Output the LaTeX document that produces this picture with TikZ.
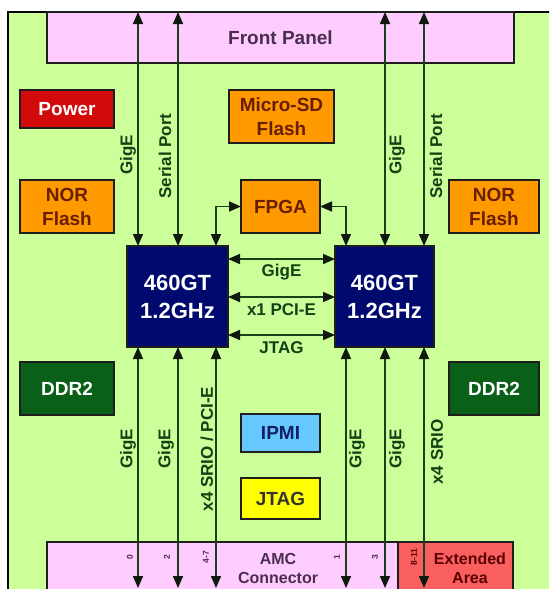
\documentclass[tikz,border=0pt]{standalone}
\usepackage{fontspec}
\setmainfont{Liberation Sans}
\usetikzlibrary{arrows.meta}
\definecolor{bggreen}{RGB}{204,255,153}
\definecolor{pinkc}{RGB}{255,204,255}
\definecolor{powerc}{RGB}{210,10,10}
\definecolor{orangec}{RGB}{255,153,0}
\definecolor{navyc}{RGB}{0,10,110}
\definecolor{ddrc}{RGB}{10,95,25}
\definecolor{ipmic}{RGB}{102,200,255}
\definecolor{yellowc}{RGB}{255,255,0}
\definecolor{extc}{RGB}{250,95,95}
\definecolor{linec}{RGB}{25,65,25}
\definecolor{arrowc}{RGB}{15,25,15}
\definecolor{labc}{RGB}{20,65,20}
\definecolor{fptext}{RGB}{75,45,80}
\definecolor{ortext}{RGB}{105,30,0}
\definecolor{exttext}{RGB}{90,0,0}
\definecolor{ipmitext}{RGB}{20,30,100}
\definecolor{boxline}{RGB}{30,30,30}
\begin{document}
\begin{tikzpicture}[x=1pt,y=-1pt,
  box/.style={draw=boxline, line width=1.3pt, inner sep=0pt, outer sep=0pt, align=center,
    font=\bfseries\fontsize{19}{24}\selectfont},
  cpu/.style={box, fill=navyc, text=white, minimum width=101pt, minimum height=101pt,
    font=\bfseries\fontsize{22}{28}\selectfont},
  orbox/.style={box, fill=orangec, text=ortext},
  ddr/.style={box, fill=ddrc, text=white, minimum width=94pt, minimum height=53pt},
  link/.style={draw=linec, line width=1.6pt,
    arrows={Triangle[length=12pt,width=10pt,color=arrowc]-Triangle[length=12pt,width=10pt,color=arrowc]}},
  lab/.style={text=labc, inner sep=0pt, font=\bfseries\fontsize{17}{20}\selectfont},
  vlab/.style={lab, rotate=90},
  num/.style={rotate=90, inner sep=0pt, text=fptext, font=\bfseries\fontsize{8.5}{9}\selectfont},
  bottomtext/.style={align=center, inner sep=0pt, font=\bfseries\fontsize{16}{19}\selectfont}]
\useasboundingbox (0,0) rectangle (549,589);
\clip (0,0) rectangle (549,589);
\fill[white] (0,0) rectangle (549,589);
\filldraw[fill=bggreen, draw=black, line width=1.3pt] (8,12) rectangle (580,620);

% boxes
\node[box, fill=pinkc, text=fptext, minimum width=467pt, minimum height=51pt] (fp) at (280.5,37.5) {Front Panel};
\node[box, fill=powerc, text=white, minimum width=94pt, minimum height=38pt] (power) at (67,109) {Power};
\node[orbox, minimum width=105pt, minimum height=53pt] (sd) at (281.5,116.5) {Micro-SD\\Flash};
\node[orbox, minimum width=94pt, minimum height=53pt] (norL) at (67,206.5) {NOR\\Flash};
\node[orbox, minimum width=79pt, minimum height=53pt] (fpga) at (280.5,206.5) {FPGA};
\node[orbox, minimum width=90pt, minimum height=53pt] (norR) at (494,206.5) {NOR\\Flash};
\node[cpu] (cpuL) at (177.5,296.5) {460GT\\1.2GHz};
\node[cpu, minimum width=99pt] (cpuR) at (384.5,296.5) {460GT\\1.2GHz};
\node[ddr] (ddrL) at (67,388.5) {DDR2};
\node[ddr, minimum width=90pt] (ddrR) at (494,388.5) {DDR2};
\node[box, fill=ipmic, text=ipmitext, minimum width=79pt, minimum height=38pt] (ipmi) at (280.5,433) {IPMI};
\node[box, fill=yellowc, text=black!80, minimum width=79pt, minimum height=41pt] (jtag) at (280.5,498.5) {JTAG};
\node[box, fill=pinkc, minimum width=351pt, minimum height=60pt] (amc) at (222.5,572) {};
\node[box, fill=extc, minimum width=115pt, minimum height=60pt] (ext) at (455.5,572) {};
\node[bottomtext, text=fptext] (amctext) at (278,568) {AMC\\Connector};
\node[bottomtext, text=exttext] (exttext) at (470,568) {Extended\\Area};

% x positions of vertical links
\coordinate (xa) at (138,0);
\coordinate (xb) at (178,0);
\coordinate (xc) at (216,0);
\coordinate (xd) at (346,0);
\coordinate (xe) at (385,0);
\coordinate (xf) at (424,0);
% free bottom ends
\coordinate (ba) at (138,588);
\coordinate (bb) at (178,588);
\coordinate (bc) at (216,588);
\coordinate (bd) at (346,588);
\coordinate (be) at (385,588);
\coordinate (bf) at (424,588);
% y of horizontal links
\coordinate (ya) at (0,259);
\coordinate (yb) at (0,297);
\coordinate (yc) at (0,335);

% front panel links
\draw[link] (fp.north -| xa) -- (cpuL.north -| xa);
\draw[link] (fp.north -| xb) -- (cpuL.north -| xb);
\draw[link] (fp.north -| xe) -- (cpuR.north -| xe);
\draw[link] (fp.north -| xf) -- (cpuR.north -| xf);
% fpga links
\draw[link] (fpga.west) -| (cpuL.north -| xc);
\draw[link] (fpga.east) -| (cpuR.north -| xd);
% cpu to cpu
\draw[link] (cpuL.east |- ya) -- (cpuR.west |- ya);
\draw[link] (cpuL.east |- yb) -- (cpuR.west |- yb);
\draw[link] (cpuL.east |- yc) -- (cpuR.west |- yc);
% AMC links
\draw[link] (cpuL.south -| xa) -- (ba);
\draw[link] (cpuL.south -| xb) -- (bb);
\draw[link] (cpuL.south -| xc) -- (bc);
\draw[link] (cpuR.south -| xd) -- (bd);
\draw[link] (cpuR.south -| xe) -- (be);
\draw[link] (cpuR.south -| xf) -- (bf);

% labels
\node[vlab] (l1) at (128,155) {GigE};
\node[vlab] (l2) at (165,156) {Serial Port};
\node[vlab] (l3) at (397,155) {GigE};
\node[vlab] (l4) at (436,156) {Serial Port};
\node[lab] (h1) at (281.5,272) {GigE};
\node[lab] (h2) at (281.5,310) {x1 PCI-E};
\node[lab] (h3) at (281.5,348) {JTAG};
\node[vlab] (b1) at (128,449) {GigE};
\node[vlab] (b2) at (166,449) {GigE};
\node[vlab] (b3) at (207,449) {x4 SRIO / PCI-E};
\node[vlab] (b4) at (357,449) {GigE};
\node[vlab] (b5) at (397,449) {GigE};
\node[vlab] (b6) at (437,452) {x4 SRIO};
% connector lane numbers
\node[num] (n0) at (130,557) {0};
\node[num] (n2) at (167,557) {2};
\node[num] (n47) at (206,557) {4-7};
\node[num] (n1) at (337,557) {1};
\node[num] (n3) at (375,557) {3};
\node[num, text=exttext] (n811) at (414,557) {8-11};
\end{tikzpicture}
\end{document}
